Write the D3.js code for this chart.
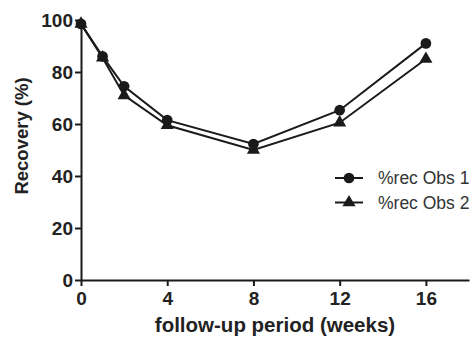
<!DOCTYPE html>
<html>
<head>
<meta charset="utf-8">
<script src="https://cdn.jsdelivr.net/npm/d3@7"></script>
<style>
  body { margin: 0; background: #fff; }
  text { font-family: "Liberation Sans", Arial, sans-serif; }
</style>
</head>
<body>
<div id="chart"></div>
<script>
var weeks = [0, 1, 2, 4, 8, 12, 16];
var obs1 = [98.5, 86, 74.5, 61.5, 52.3, 65.3, 91];
var obs2 = [98.5, 85.5, 71, 59.5, 50, 60.5, 85];
var xTicks = [0, 4, 8, 12, 16];
var yTicks = [0, 20, 40, 60, 80, 100];
var seriesNames = ["%rec Obs 1", "%rec Obs 2"];

var width = 476, height = 340;
var margin = {left: 81, right: 7, top: 20, bottom: 60};

var svg = d3.select("#chart").append("svg")
    .attr("width", width)
    .attr("height", height);

var x = d3.scaleLinear().domain([0, 18]).range([margin.left, width - margin.right]);
var y = d3.scaleLinear().domain([0, 100]).range([height - margin.bottom, margin.top]);

var xAxis = svg.append("g")
    .attr("transform", "translate(0," + y(0) + ")")
    .call(d3.axisBottom(x).tickValues(xTicks).tickSize(6).tickPadding(4).tickSizeOuter(0));

var yAxis = svg.append("g")
    .attr("transform", "translate(" + x(0) + ",0)")
    .call(d3.axisLeft(y).tickValues(yTicks).tickSize(6).tickPadding(2).tickSizeOuter(0));

[xAxis, yAxis].forEach(function(a) {
  a.select(".domain").attr("stroke", "#1a1a1a").attr("stroke-width", 2);
  a.selectAll(".tick line").attr("stroke", "#1a1a1a").attr("stroke-width", 2);
  a.selectAll(".tick text")
      .attr("fill", "#222")
      .style("font-size", "19px")
      .style("font-weight", "bold")
      .style("font-family", "'Liberation Sans', Arial, sans-serif");
});
xAxis.selectAll(".tick text").attr("dy", "0.78em");
yAxis.selectAll(".tick text").attr("dy", "0.36em");

svg.append("text")
    .attr("x", 275)
    .attr("y", 332)
    .attr("text-anchor", "middle")
    .attr("fill", "#222")
    .style("font-size", "20.5px")
    .style("font-weight", "bold")
    .text("follow-up period (weeks)");

svg.append("text")
    .attr("transform", "translate(28,136) rotate(-90)")
    .attr("text-anchor", "middle")
    .attr("fill", "#222")
    .style("font-size", "18.5px")
    .style("font-weight", "bold")
    .text("Recovery (%)");

var line = d3.line()
    .x(function(d) { return x(d.w); })
    .y(function(d) { return y(d.v); });

var circle = d3.symbol().type(d3.symbolCircle).size(90);
var triangle = d3.symbol().type(d3.symbolTriangle).size(75);

var series = [
  {name: seriesNames[0], values: obs1, sym: circle},
  {name: seriesNames[1], values: obs2, sym: triangle}
];

series.slice().reverse().forEach(function(s) {
  var data = weeks.map(function(w, i) { return {w: w, v: s.values[i]}; });
  svg.append("path")
      .attr("d", line(data))
      .attr("fill", "none")
      .attr("stroke", "#1a1a1a")
      .attr("stroke-width", 2);
  svg.selectAll(null)
      .data(data)
      .enter().append("path")
      .attr("d", s.sym)
      .attr("transform", function(d) { return "translate(" + x(d.w) + "," + y(d.v) + ")"; })
      .attr("fill", "#1a1a1a");
});

var legend = svg.append("g").attr("class", "legend");
series.forEach(function(s, i) {
  var ly = 178 + i * 24.5;
  legend.append("line")
      .attr("x1", 335).attr("x2", 363)
      .attr("y1", ly).attr("y2", ly)
      .attr("stroke", "#1a1a1a")
      .attr("stroke-width", 2);
  legend.append("path")
      .attr("d", s.sym)
      .attr("transform", "translate(349," + ly + ")")
      .attr("fill", "#1a1a1a");
  legend.append("text")
      .attr("x", 378)
      .attr("y", ly)
      .attr("dy", "0.35em")
      .attr("fill", "#333")
      .style("font-size", "17.5px")
      .text(s.name);
});
</script>
</body>
</html>
